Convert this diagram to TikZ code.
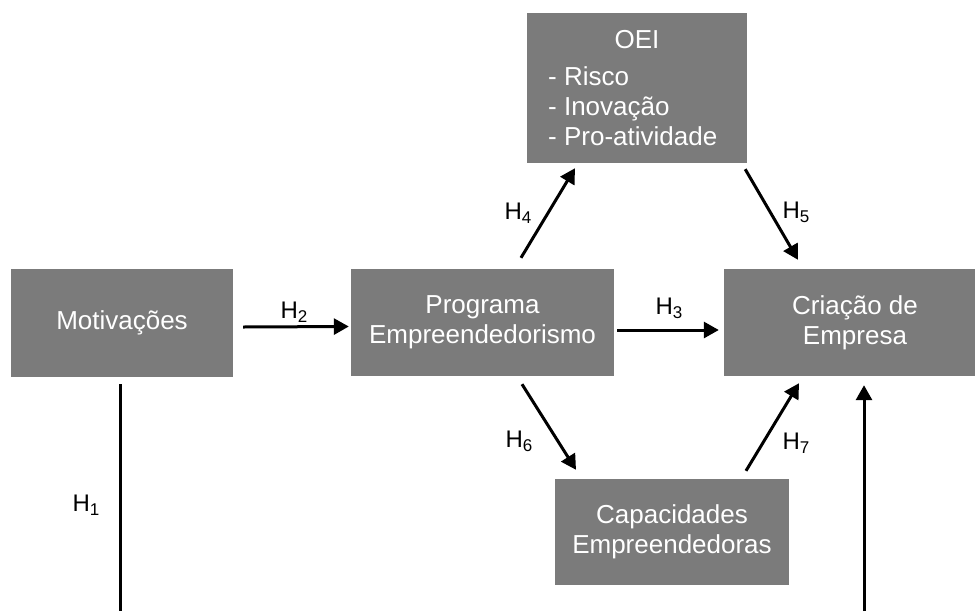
\documentclass[tikz,border=0pt]{standalone}
\usepackage{fontspec}
\setmainfont{Liberation Sans}
\usetikzlibrary{calc,arrows.meta}
\definecolor{boxgray}{RGB}{123,123,123}
\newcommand\hlab[1]{H\raisebox{-4pt}{\fontsize{17}{17}\selectfont #1}}
\begin{document}
\begin{tikzpicture}[x=1pt,y=-1pt,
  boxnode/.style={fill=boxgray,text=white,inner sep=0pt,align=center,font=\fontsize{26}{30}\selectfont},
  boxtext/.style={text=white,inner sep=0pt,font=\fontsize{26}{30}\selectfont},
  hlabel/.style={inner sep=0pt,font=\fontsize{24}{26}\selectfont},
  conn/.style={line width=3pt,-{Triangle[length=15pt,width=16pt]}},
  plain/.style={line width=3pt}]
\useasboundingbox (0,0) rectangle (975,611);
% boxes
\node[boxnode,minimum width=222pt,minimum height=108pt] (mot) at (122,323) {Motivações};
\node[boxnode,minimum width=263pt,minimum height=107pt] (prog) at (482.5,322.5) {Programa\\Empreendedorismo};
\node[boxnode,minimum width=262pt,minimum height=107pt] (crea) at (855,322.5) {Criação de\\Empresa};
\node[boxnode,minimum width=220pt,minimum height=150pt] (oei) at (637,88) {};
\node[boxnode,minimum width=234pt,minimum height=106pt] (cap) at (672,532) {Capacidades\\Empreendedoras};
% OEI text
\node[boxtext,anchor=base] (oeit) at (637,48) {OEI};
\node[boxtext,anchor=base west] (oei1) at (548,85) {- Risco};
\node[boxtext,anchor=base west] (oei2) at (548,115) {- Inovação};
\node[boxtext,anchor=base west] (oei3) at (548,145) {- Pro-atividade};
% free ends
\coordinate (botl) at (120,611);
\coordinate (botr) at (864,611);
% connectors
\draw[conn] ($(mot.east)+(10,4)$) -- ($(prog.west)+(-2,4)$);
\draw[conn] ($(prog.east)+(3,7.5)$) -- ($(crea.west)+(-5,7.5)$);
\draw[conn] ($(prog.north)+(38.5,-11)$) -- ($(oei.south)+(-62,5)$);
\draw[conn] ($(oei.south east)+(-2,6)$) -- ($(crea.north)+(-57,-9)$);
\draw[conn] ($(prog.south)+(39.5,8)$) -- ($(cap.north)+(-96,-9)$);
\draw[conn] ($(cap.north)+(74,-8)$) -- ($(crea.south)+(-56,7)$);
\draw[plain] ($(mot.south)+(-2,7)$) -- (botl);
\draw[conn] (botr) -- ($(crea.south)+(9,9)$);
% labels
\node[hlabel] (h1) at (86,505) {\hlab{1}};
\node[hlabel] (h2) at (294,312) {\hlab{2}};
\node[hlabel] (h3) at (669,308) {\hlab{3}};
\node[hlabel] (h4) at (518,213) {\hlab{4}};
\node[hlabel] (h5) at (796,212) {\hlab{5}};
\node[hlabel] (h6) at (519,441) {\hlab{6}};
\node[hlabel] (h7) at (796,443) {\hlab{7}};
\end{tikzpicture}
\end{document}
